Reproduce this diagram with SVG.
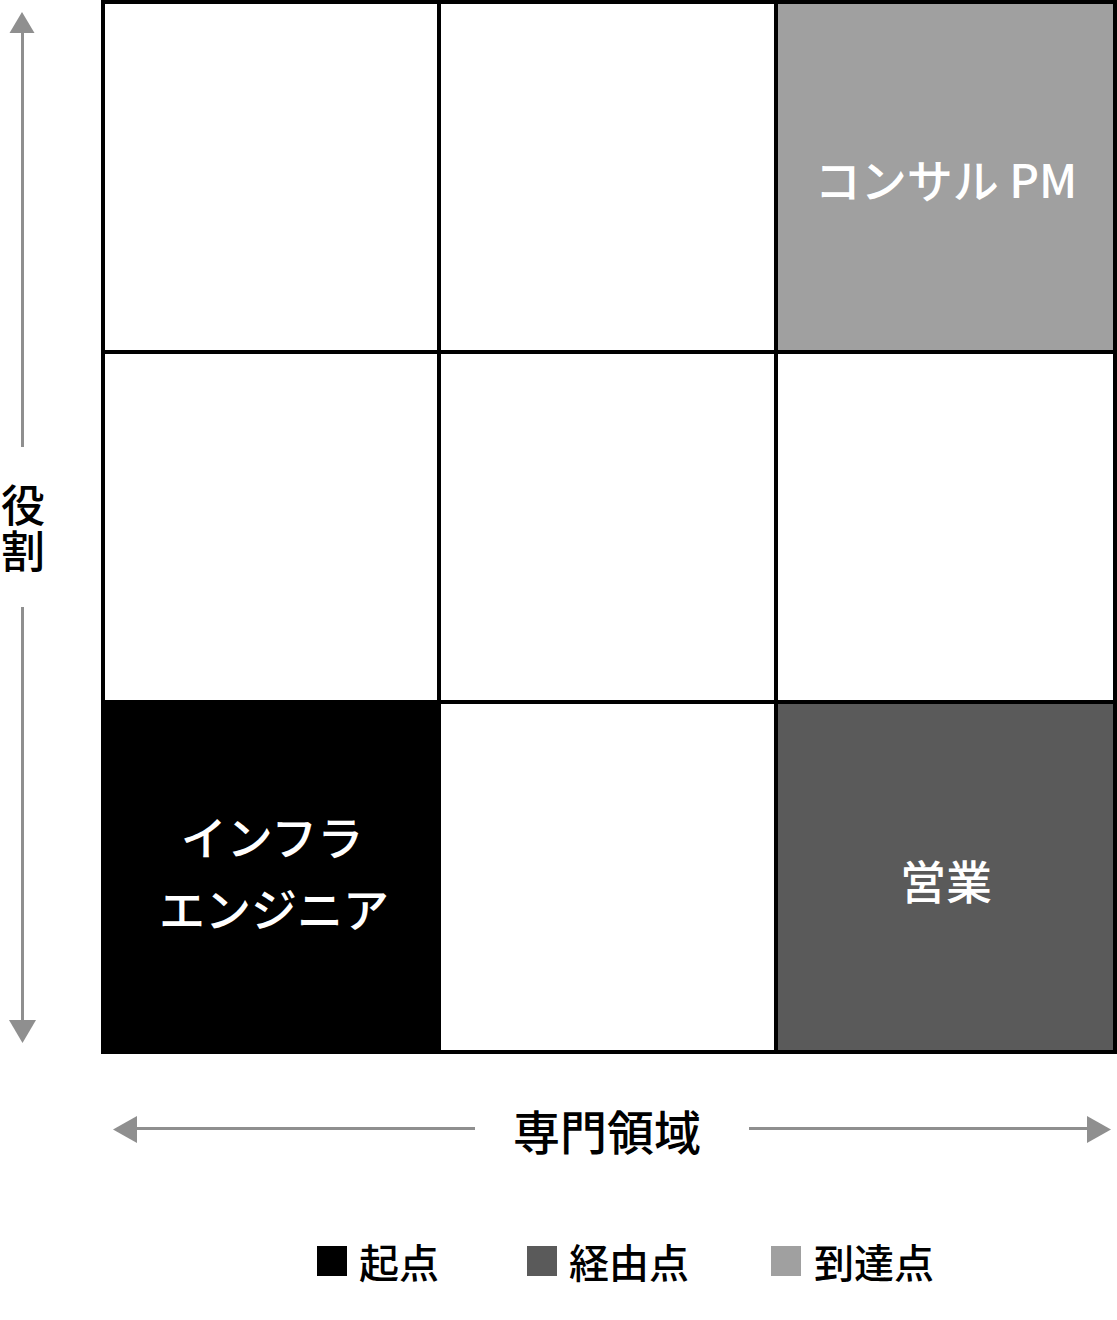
<svg xmlns="http://www.w3.org/2000/svg" width="1117" height="1320" viewBox="0 0 1117 1320">
<style>
.cell{stroke:#000;stroke-width:4}
.lbl{font-family:"Noto Sans CJK JP","Noto Sans",sans-serif;font-size:46px;font-weight:500;fill:#fff;text-anchor:middle;dominant-baseline:central}
.axis{font-family:"Noto Sans CJK JP","Noto Sans",sans-serif;font-size:47px;font-weight:500;fill:#000;text-anchor:middle;dominant-baseline:central}
.vax{font-family:"Noto Sans CJK JP","Noto Sans",sans-serif;font-size:44px;font-weight:500;fill:#000;text-anchor:middle;dominant-baseline:central}
.leg{font-family:"Noto Sans CJK JP","Noto Sans",sans-serif;font-size:40px;font-weight:500;fill:#000;dominant-baseline:central}
.ax{stroke:#8f8f8f;stroke-width:3;fill:none}
.head{fill:#8f8f8f}
</style>
<rect width="1117" height="1320" fill="#fff"/>
<g id="grid">
<g id="c11"><rect class="cell" x="103" y="2" width="336" height="350" fill="#fff"/></g>
<g id="c12"><rect class="cell" x="439" y="2" width="337" height="350" fill="#fff"/></g>
<g id="c13"><rect class="cell" x="776" y="2" width="339" height="350" fill="#a0a0a0"/><text class="lbl" x="946" y="178">コンサル PM</text></g>
<g id="c21"><rect class="cell" x="103" y="352" width="336" height="350" fill="#fff"/></g>
<g id="c22"><rect class="cell" x="439" y="352" width="337" height="350" fill="#fff"/></g>
<g id="c23"><rect class="cell" x="776" y="352" width="339" height="350" fill="#fff"/></g>
<g id="c31"><rect class="cell" x="103" y="702" width="336" height="350" fill="#000"/><text class="lbl" x="272" y="835">インフラ</text><text class="lbl" x="274" y="907">エンジニア</text></g>
<g id="c32"><rect class="cell" x="439" y="702" width="337" height="350" fill="#fff"/></g>
<g id="c33"><rect class="cell" x="776" y="702" width="339" height="350" fill="#5a5a5a"/><text class="lbl" x="946" y="879">営業</text></g>
</g>
<g id="connectors">
<line class="ax" x1="22.5" y1="30" x2="22.5" y2="447"/>
<line class="ax" x1="22.5" y1="607" x2="22.5" y2="1022"/>
<polygon class="head" points="22,12 34.5,33 9.5,33"/>
<polygon class="head" points="22.5,1043 36,1020 9,1020"/>
<line class="ax" x1="135" y1="1128.5" x2="475" y2="1128.5"/>
<line class="ax" x1="749" y1="1128.5" x2="1090" y2="1128.5"/>
<polygon class="head" points="113,1129.5 137,1116 137,1143"/>
<polygon class="head" points="1111,1129.5 1087,1116 1087,1143"/>
</g>
<g id="axis-labels">
<text class="vax" x="23" y="503">役<tspan x="23" y="549">割</tspan></text>
<text class="axis" x="607" y="1129">専門領域</text>
</g>
<g id="legend">
<rect x="317" y="1246" width="30" height="30" fill="#000"/>
<text class="leg" x="359" y="1261">起点</text>
<rect x="527" y="1246" width="30" height="30" fill="#5a5a5a"/>
<text class="leg" x="569" y="1261">経由点</text>
<rect x="771" y="1246" width="30" height="30" fill="#a0a0a0"/>
<text class="leg" x="814" y="1261">到達点</text>
</g>
</svg>
